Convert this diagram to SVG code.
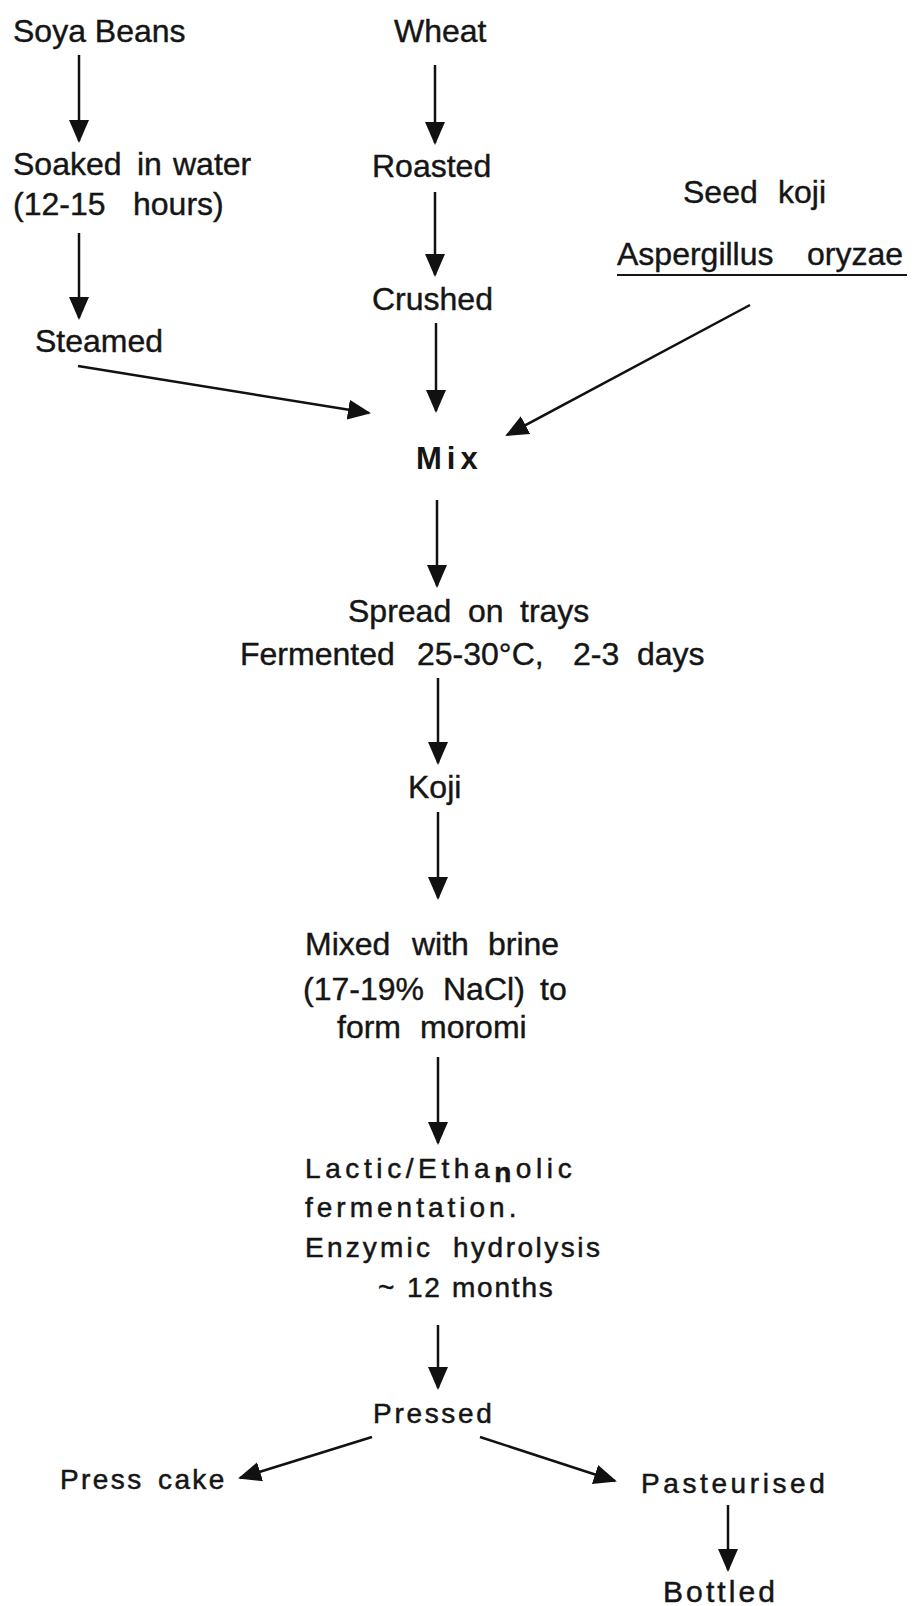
<svg xmlns="http://www.w3.org/2000/svg" width="914" height="1606" viewBox="0 0 914 1606">
<defs>
<style>
.t{font-family:"Liberation Sans",Arial,sans-serif;font-size:32px;fill:#151515;stroke:#151515;stroke-width:0.4px}
.b{font-family:"Liberation Sans",Arial,sans-serif;font-size:28px;fill:#151515;stroke:#151515;stroke-width:0.5px;letter-spacing:3px}
.mix{font-family:"Liberation Sans",Arial,sans-serif;font-size:31px;font-weight:bold;fill:#151515;letter-spacing:5px}
.c line{stroke:#111;stroke-width:2.5;fill:none;marker-end:url(#ah)}
</style>
<marker id="ah" markerUnits="userSpaceOnUse" markerWidth="24" markerHeight="20" refX="21" refY="10" orient="auto">
<path d="M0,0 L23,10 L0,20 z" fill="#111"/>
</marker>
</defs>
<rect width="914" height="1606" fill="#fff"/>

<g id="soya"><text class="t" x="13" y="42">Soya Beans</text></g>
<g id="wheat"><text class="t" x="394" y="42">Wheat</text></g>
<g id="soaked"><text class="t" y="175"><tspan x="13">Soaked</tspan><tspan x="137">in</tspan><tspan x="173">water</tspan></text>
<text class="t" y="215"><tspan x="13">(12-15</tspan><tspan x="133">hours)</tspan></text></g>
<g id="roasted"><text class="t" x="372" y="177">Roasted</text></g>
<g id="crushed"><text class="t" x="372" y="310">Crushed</text></g>
<g id="steamed"><text class="t" x="35" y="352">Steamed</text></g>
<g id="seedkoji"><text class="t" y="203"><tspan x="683">Seed</tspan><tspan x="778">koji</tspan></text>
<text class="t" y="265"><tspan x="617">Aspergillus</tspan><tspan x="807">oryzae</tspan></text>
<line x1="617" y1="275" x2="907" y2="275" stroke="#151515" stroke-width="2"/></g>
<g id="mix"><text class="mix" x="416" y="469">Mix</text></g>
<g id="spread"><text class="t" y="622"><tspan x="348">Spread</tspan><tspan x="468">on</tspan><tspan x="520">trays</tspan></text>
<text class="t" y="665"><tspan x="240">Fermented</tspan><tspan x="417">25-30°C,</tspan><tspan x="573">2-3</tspan><tspan x="637">days</tspan></text></g>
<g id="koji"><text class="t" x="408" y="798">Koji</text></g>
<g id="brine"><text class="t" y="955"><tspan x="305">Mixed</tspan><tspan x="412">with</tspan><tspan x="488">brine</tspan></text>
<text class="t" y="1000"><tspan x="303">(17-19%</tspan><tspan x="443">NaCl)</tspan><tspan x="540">to</tspan></text>
<text class="t" y="1038"><tspan x="337">form</tspan><tspan x="420">moromi</tspan></text></g>
<g id="lactic"><text class="b" x="305" y="1178" style="letter-spacing:4.6px">Lactic/Etha<tspan dy="4" font-weight="bold">n</tspan><tspan dy="-4">olic</tspan></text>
<text class="b" x="305" y="1217" style="letter-spacing:4px">fermentation.</text>
<text class="b" y="1257"><tspan x="305" style="letter-spacing:3.2px">Enzymic</tspan><tspan x="453" style="letter-spacing:2.5px">hydrolysis</tspan></text>
<text class="b" y="1297" style="letter-spacing:1.8px"><tspan x="378">~</tspan><tspan x="407">12</tspan><tspan x="452">months</tspan></text></g>
<g id="pressed"><text class="b" x="373" y="1423" style="letter-spacing:2.7px">Pressed</text></g>
<g id="presscake"><text class="b" y="1489" style="letter-spacing:2.4px"><tspan x="60">Press</tspan><tspan x="158">cake</tspan></text></g>
<g id="pasteurised"><text class="b" x="641" y="1493" style="letter-spacing:3.6px">Pasteurised</text></g>
<g id="bottled"><text class="b" x="663" y="1602" style="font-size:30px;letter-spacing:3.1px">Bottled</text></g>

<g id="connectors" class="c">
<line x1="79" y1="55" x2="79" y2="141"/>
<line x1="79" y1="233" x2="79" y2="318"/>
<line x1="435" y1="65" x2="435" y2="143"/>
<line x1="435" y1="192" x2="435" y2="275"/>
<line x1="436" y1="323" x2="436" y2="411"/>
<line x1="78" y1="366" x2="369" y2="413"/>
<line x1="750" y1="305" x2="507" y2="435"/>
<line x1="437" y1="500" x2="437" y2="586"/>
<line x1="438" y1="678" x2="438" y2="763"/>
<line x1="438" y1="812" x2="438" y2="898"/>
<line x1="438" y1="1057" x2="438" y2="1143"/>
<line x1="438" y1="1325" x2="438" y2="1388"/>
<line x1="372" y1="1437" x2="240" y2="1478"/>
<line x1="480" y1="1437" x2="615" y2="1481"/>
<line x1="728" y1="1505" x2="728" y2="1570"/>
</g>
</svg>
